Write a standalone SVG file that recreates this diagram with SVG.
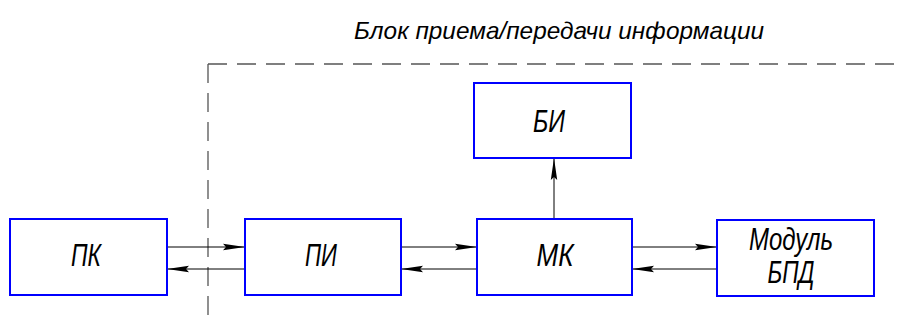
<svg xmlns="http://www.w3.org/2000/svg" width="900" height="325" viewBox="0 0 900 325">
<defs>
<style>
.box{fill:#fff;stroke:#0000ff;stroke-width:2}
.lbl{font-family:"Liberation Sans","DejaVu Sans",sans-serif;font-style:italic;font-size:32px;fill:#000;text-anchor:middle}
.ttl{font-family:"Liberation Sans","DejaVu Sans",sans-serif;font-style:italic;font-size:24px;fill:#000;text-anchor:middle}
.ln{stroke:#000;stroke-width:1;fill:none}
.dash{stroke:#555;stroke-width:1.3;fill:none;stroke-dasharray:19 10}
</style>
<marker id="ah" markerUnits="userSpaceOnUse" markerWidth="24" markerHeight="10" refX="22" refY="5" orient="auto">
<path d="M0,1.8 L22,5 L0,8.2 L3,5 Z" fill="#000"/>
</marker>
</defs>
<rect width="900" height="325" fill="#fff"/>
<text class="ttl" x="559" y="39" textLength="410" lengthAdjust="spacingAndGlyphs">Блок приема/передачи информации</text>
<g id="frame">
<path class="dash" d="M208,64 H900"/>
<path class="dash" d="M208,64 V325"/>
</g>
<g id="connectors">
<line class="ln" x1="167" y1="247" x2="245" y2="247" marker-end="url(#ah)"/>
<line class="ln" x1="245" y1="269" x2="167" y2="269" marker-end="url(#ah)"/>
<line class="ln" x1="401" y1="247" x2="477" y2="247" marker-end="url(#ah)"/>
<line class="ln" x1="477" y1="269" x2="401" y2="269" marker-end="url(#ah)"/>
<line class="ln" x1="632" y1="247" x2="717" y2="247" marker-end="url(#ah)"/>
<line class="ln" x1="717" y1="269" x2="632" y2="269" marker-end="url(#ah)"/>
<line class="ln" x1="554" y1="219" x2="554" y2="158" marker-end="url(#ah)"/>
</g>
<g id="pk">
<rect class="box" x="10" y="219" width="157" height="76"/>
<text class="lbl" x="86" y="266" textLength="30" lengthAdjust="spacingAndGlyphs">ПК</text>
</g>
<g id="pi">
<rect class="box" x="245" y="219" width="156" height="76"/>
<text class="lbl" x="321" y="266" textLength="32" lengthAdjust="spacingAndGlyphs">ПИ</text>
</g>
<g id="mk">
<rect class="box" x="477" y="219" width="155" height="76"/>
<text class="lbl" x="555" y="266" textLength="37" lengthAdjust="spacingAndGlyphs">МК</text>
</g>
<g id="bi">
<rect class="box" x="474" y="83" width="157" height="75"/>
<text class="lbl" x="549" y="132" textLength="32" lengthAdjust="spacingAndGlyphs">БИ</text>
</g>
<g id="bpd">
<rect class="box" x="717" y="220" width="157" height="76"/>
<text class="lbl" x="791" y="250" textLength="84" lengthAdjust="spacingAndGlyphs">Модуль</text>
<text class="lbl" x="791" y="283" textLength="47" lengthAdjust="spacingAndGlyphs">БПД</text>
</g>
</svg>
